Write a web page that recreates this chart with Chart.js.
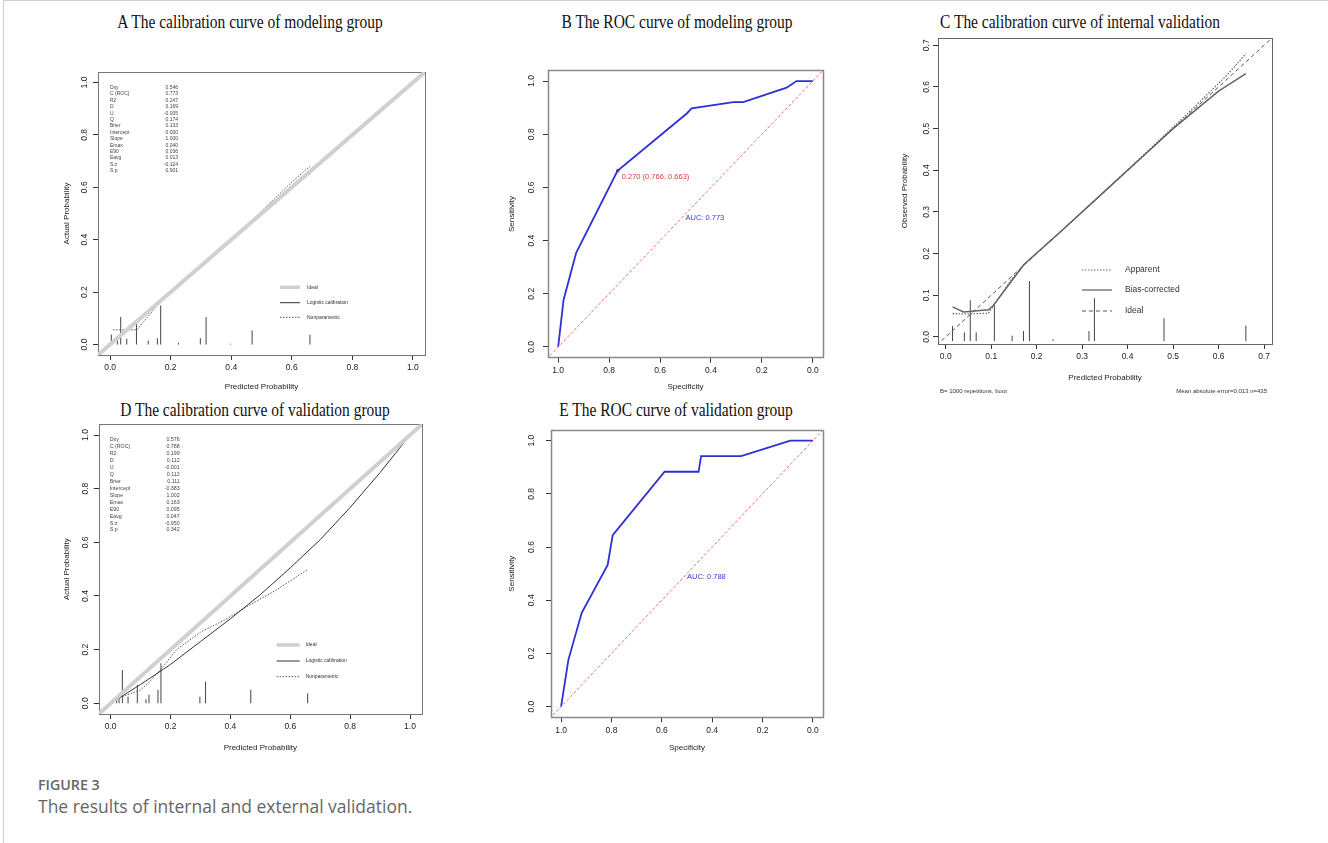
<!DOCTYPE html>
<html>
<head>
<meta charset="utf-8">
<title>Figure 3</title>
<script src="https://cdn.jsdelivr.net/npm/chart.js@4.4.1/dist/chart.umd.min.js"></script>
<style>
  html, body { margin: 0; padding: 0; background: #fff; }
  body { position: relative; width: 1328px; height: 843px; overflow: hidden; }
  .frame { position: absolute; left: 3px; top: 0; width: 1340px; height: 860px; border: 1px solid #cfcfcf; }
  .ttl { position: absolute; white-space: nowrap; font-family: "Liberation Serif", "Times New Roman", serif;
         font-size: 18px; line-height: 18px; color: #111; transform: translate(-50%, -50%) scaleX(0.86); }
  .cap { position: absolute; left: 38px; white-space: nowrap; line-height: 1; transform-origin: 0 50%;
         font-family: "Open Sans", sans-serif; color: #666; }
  canvas { position: absolute; }
</style>
</head>
<body>
<div class="frame"></div>
<div class="ttl" style="left:250px; top:22px">A The calibration curve of modeling group</div>
<div class="ttl" style="left:677px; top:22px">B The ROC curve of modeling group</div>
<div class="ttl" style="left:1080px; top:22px">C The calibration curve of internal validation</div>
<div class="ttl" style="left:255px; top:410px">D The calibration curve of validation group</div>
<div class="ttl" style="left:676px; top:410px">E The ROC curve of validation group</div>
<div class="cap" style="top:777px; font-size:15px; font-weight:600; transform:scaleX(0.95)">FIGURE 3</div>
<div class="cap" style="top:797px; font-size:19px; transform:scaleX(0.92)">The results of internal and external validation.</div>

<script>
const FONT = '"Liberation Sans", Arial, Helvetica, sans-serif';
Chart.defaults.font.family = FONT;

// ---- A: calibration, modeling group ----
const aLogisticX = [0, 1];
const aLogisticY = [0, 1];
const aNonparX = [0.01, 0.088, 0.165, 0.30, 0.47, 0.60, 0.66];
const aNonparY = [0.056, 0.056, 0.162, 0.30, 0.475, 0.62, 0.68];
const aSpikeX = [0.004, 0.024, 0.035, 0.055, 0.087, 0.126, 0.156, 0.167, 0.226, 0.298, 0.317, 0.398, 0.469, 0.66];
const aSpikeTop = [0.038, 0.022, 0.105, 0.022, 0.085, 0.015, 0.024, 0.149, 0.006, 0.024, 0.105, 0.003, 0.054, 0.037];
const statNames = ['Dxy', 'C (ROC)', 'R2', 'D', 'U', 'Q', 'Brier', 'Intercept', 'Slope', 'Emax', 'E90', 'Eavg', 'S:z', 'S:p'];
const aStats = ['0.546', '0.773', '0.247', '0.169', '-0.005', '0.174', '0.133', '0.000', '1.000', '0.040', '0.036', '0.013', '-0.124', '0.901'];

// ---- B: ROC, modeling group ----
const bSpec = [1.0, 0.979, 0.929, 0.767, 0.495, 0.476, 0.312, 0.273, 0.103, 0.064, 0.0];
const bSens = [0.0, 0.177, 0.355, 0.662, 0.878, 0.897, 0.921, 0.921, 0.975, 1.0, 1.0];
const bCut = [0.766, 0.663];
const bCutLabel = '0.270 (0.766, 0.663)';
const bAuc = 'AUC: 0.773';

// ---- C: calibration, internal validation (bootstrap) ----
const cAppX = [0.015, 0.05, 0.094, 0.142, 0.172, 0.25, 0.35, 0.45, 0.55, 0.62, 0.66];
const cAppY = [0.056, 0.055, 0.057, 0.134, 0.174, 0.25, 0.35, 0.452, 0.555, 0.63, 0.68];
const cBcX = [0.015, 0.039, 0.094, 0.105, 0.172, 0.25, 0.35, 0.45, 0.5, 0.55, 0.6, 0.66];
const cBcY = [0.072, 0.06, 0.065, 0.076, 0.174, 0.25, 0.35, 0.45, 0.5, 0.545, 0.59, 0.632];
const cSpikeX = [0.015, 0.041, 0.054, 0.067, 0.107, 0.146, 0.171, 0.184, 0.236, 0.315, 0.327, 0.48, 0.66];
const cSpikeTop = [0.026, 0.011, 0.088, 0.011, 0.079, 0.003, 0.014, 0.134, -0.006, 0.014, 0.093, 0.045, 0.027];
const cSpikeBase = -0.01;
const cNoteLeft = 'B= 1000 repetitions, boot';
const cNoteRight = 'Mean absolute error=0.013 n=435';

// ---- D: calibration, validation group ----
const dLogisticX = [0, 0.05, 0.1, 0.2, 0.3, 0.4, 0.5, 0.6, 0.7, 0.8, 0.9, 0.95, 1.0];
const dLogisticY = [0, 0.035, 0.07, 0.145, 0.23, 0.315, 0.405, 0.505, 0.61, 0.73, 0.86, 0.93, 1.0];
const dNonparX = [0.003, 0.04, 0.1, 0.13, 0.17, 0.22, 0.3, 0.38, 0.47, 0.55, 0.66];
const dNonparY = [0.005, 0.025, 0.05, 0.08, 0.13, 0.2, 0.265, 0.31, 0.37, 0.42, 0.5];
const dSpikeX = [0.009, 0.02, 0.028, 0.039, 0.058, 0.089, 0.118, 0.128, 0.158, 0.168, 0.298, 0.317, 0.468, 0.658];
const dSpikeTop = [0.018, 0.025, 0.037, 0.124, 0.025, 0.068, 0.015, 0.032, 0.05, 0.149, 0.025, 0.081, 0.05, 0.037];
const dStats = ['0.576', '0.788', '0.199', '0.112', '-0.001', '0.112', '0.111', '-0.383', '1.002', '0.163', '0.095', '0.047', '-0.950', '0.342'];

// ---- E: ROC, validation group ----
const eSpec = [1.0, 0.971, 0.918, 0.815, 0.795, 0.589, 0.454, 0.444, 0.285, 0.090, 0.0];
const eSens = [0.0, 0.176, 0.353, 0.533, 0.645, 0.883, 0.883, 0.942, 0.942, 1.0, 1.0];
const eAuc = 'AUC: 0.788';

// reference lines, clipped to the plot box
const idealEnds = [-0.1, 1.1];
const chanceSpec = [1.1, -0.1];
const chanceSens = [-0.1, 1.1];

function pts(xs, ys) { return xs.map((x, i) => ({x: x, y: ys[i]})); }

function curve(xs, ys, color, width, dash) {
  return { data: pts(xs, ys), showLine: true, borderColor: color, borderWidth: width,
    borderDash: dash || [], pointRadius: 0, tension: 0, clip: 0, fill: false };
}

function spikes(xs, tops, base, color) {
  const d = [];
  xs.forEach((x, i) => { d.push({x: x, y: base}, {x: x, y: tops[i]}, {x: x, y: null}); });
  return { data: d, showLine: true, spanGaps: false, borderColor: color, borderWidth: 1, pointRadius: 0, clip: 0 };
}

function text(ctx, s, x, y, size, color, align, base) {
  ctx.save();
  ctx.font = size + 'px ' + FONT;
  ctx.fillStyle = color;
  ctx.textAlign = align || 'left';
  ctx.textBaseline = base || 'middle';
  ctx.fillText(s, x, y);
  ctx.restore();
}

function seg(ctx, x0, x1, y, color, width, dash) {
  ctx.save();
  ctx.strokeStyle = color; ctx.lineWidth = width; ctx.setLineDash(dash || []);
  ctx.beginPath(); ctx.moveTo(x0, y); ctx.lineTo(x1, y); ctx.stroke();
  ctx.restore();
}

function calLegend(ctx, x0, x1, xt, ys, size) {
  seg(ctx, x0, x1, ys[0], '#cfcfcf', 3.5);
  text(ctx, 'Ideal', xt, ys[0], size, '#333');
  seg(ctx, x0, x1, ys[1], '#333', 1);
  text(ctx, 'Logistic calibration', xt, ys[1], size, '#333');
  seg(ctx, x0, x1, ys[2], '#555', 1, [1.5, 1.5]);
  text(ctx, 'Nonparametric', xt, ys[2], size, '#333');
}

function panel(p) {
  const cv = document.createElement('canvas');
  cv.width = p.c.w; cv.height = p.c.h;
  cv.style.left = p.c.x + 'px'; cv.style.top = p.c.y + 'px';
  cv.style.width = p.c.w + 'px'; cv.style.height = p.c.h + 'px';
  document.body.appendChild(cv);

  const lh = p.titleSize * 1.2;
  const padLeft = p.yTitleX - p.c.x - lh / 2;
  const yW = p.box.l - p.c.x - padLeft;
  const xBottom = p.xTitleY + lh / 2;
  const xH = xBottom - p.box.b;

  const axis = (isY) => ({
    type: 'linear',
    min: isY ? p.yRange[0] : p.xRange[0],
    max: isY ? p.yRange[1] : p.xRange[1],
    reverse: !isY && !!p.reverseX,
    afterFit: s => { if (isY) s.width = yW; else s.height = xH; },
    border: { display: false },
    grid: { drawOnChartArea: false, drawTicks: true, tickLength: 5, color: '#333', lineWidth: 1 },
    ticks: {
      stepSize: p.step, includeBounds: false, autoSkip: false,
      minRotation: isY ? 90 : 0, maxRotation: isY ? 90 : 0,
      crossAlign: isY ? 'center' : 'near',
      padding: isY ? p.yTickPad : 3, color: '#222',
      font: { family: FONT, size: p.tickSize },
      callback: v => v.toFixed(1)
    },
    title: { display: true, text: isY ? p.yTitle : p.xTitle, color: '#222', padding: 0,
      font: { family: FONT, size: p.titleSize, lineHeight: 1.2 } }
  });

  return new Chart(cv, {
    type: 'scatter',
    data: { datasets: p.datasets },
    options: {
      responsive: false, animation: false, events: [],
      layout: { padding: { left: padLeft, top: p.box.t - p.c.y, right: p.c.x + p.c.w - p.box.r, bottom: p.c.y + p.c.h - xBottom } },
      plugins: { legend: { display: false }, tooltip: { enabled: false } },
      scales: { x: axis(false), y: axis(true) }
    },
    plugins: [{
      id: 'rbox',
      beforeDatasetsDraw(chart) {
        const ca = chart.chartArea, ctx = chart.ctx;
        ctx.save();
        ctx.strokeStyle = p.boxColor; ctx.lineWidth = p.boxWidth;
        ctx.strokeRect(Math.round(ca.left) + 0.5, Math.round(ca.top) + 0.5, Math.round(ca.width), Math.round(ca.height));
        ctx.restore();
      },
      afterDatasetsDraw(chart) { if (p.draw) p.draw(chart); }
    }]
  });
}

// A
panel({
  c: {x: 20, y: 40, w: 440, h: 360}, box: {l: 98, t: 72, r: 425, b: 355},
  yTitleX: 67, xTitleY: 387, tickSize: 8.5, titleSize: 8, yTickPad: 2,
  xRange: [-0.04, 1.04], yRange: [-0.04, 1.04], step: 0.2,
  xTitle: 'Predicted Probability', yTitle: 'Actual Probability', boxColor: '#777', boxWidth: 1,
  datasets: [
    curve(idealEnds, idealEnds, '#d0d0d0', 4),
    curve(aLogisticX, aLogisticY, '#333', 1),
    curve(aNonparX, aNonparY, '#555', 1, [1.5, 1.5]),
    spikes(aSpikeX, aSpikeTop, 0, '#444')
  ],
  draw: chart => {
    const ctx = chart.ctx, ca = chart.chartArea;
    statNames.forEach((n, i) => {
      const y = ca.top + 15.7 + i * 6.4;
      text(ctx, n, ca.left + 12, y, 5, '#444');
      text(ctx, aStats[i], ca.left + 80, y, 5, '#444', 'right');
    });
    calLegend(ctx, ca.left + 182, ca.left + 202, ca.left + 209, [ca.bottom - 67.7, ca.bottom - 52.3, ca.bottom - 37.7], 5);
  }
});

// B
panel({
  c: {x: 470, y: 40, w: 380, h: 360}, box: {l: 548, t: 70.4, r: 823, b: 357.6},
  yTitleX: 512, xTitleY: 387, tickSize: 8.5, titleSize: 8, yTickPad: 5, reverseX: true,
  xRange: [-0.04, 1.04], yRange: [-0.04, 1.04], step: 0.2,
  xTitle: 'Specificity', yTitle: 'Sensitivity', boxColor: '#888', boxWidth: 1.5,
  datasets: [
    curve(chanceSpec, chanceSens, '#f07070', 1, [3, 2]),
    curve(bSpec, bSens, '#2f2fd6', 1.8),
    { data: [{x: bCut[0], y: bCut[1]}], pointRadius: 1.8, pointBackgroundColor: '#e03a3a', pointBorderWidth: 0, showLine: false }
  ],
  draw: chart => {
    const ctx = chart.ctx, xs = chart.scales.x, ys = chart.scales.y;
    const px = xs.getPixelForValue(bCut[0]), py = ys.getPixelForValue(bCut[1]);
    text(ctx, bCutLabel, px + 4, py + 6, 7.5, '#e03a3a');
    text(ctx, bAuc, xs.getPixelForValue(0.5), ys.getPixelForValue(0.5), 7.5, '#3a3ad0', 'left', 'top');
  }
});

// C
panel({
  c: {x: 870, y: 30, w: 458, h: 372}, box: {l: 938, t: 38, r: 1272, b: 344},
  yTitleX: 905, xTitleY: 378, tickSize: 8.5, titleSize: 8, yTickPad: 0,
  xRange: [-0.017, 0.7175], yRange: [-0.017, 0.7175], step: 0.1,
  xTitle: 'Predicted Probability', yTitle: 'Observed Probability', boxColor: '#666', boxWidth: 1,
  datasets: [
    curve(idealEnds, idealEnds, '#555', 1, [4, 3]),
    curve(cAppX, cAppY, '#666', 1.2, [1.5, 1.5]),
    curve(cBcX, cBcY, '#666', 1.5),
    spikes(cSpikeX, cSpikeTop, cSpikeBase, '#444')
  ],
  draw: chart => {
    const ctx = chart.ctx, ca = chart.chartArea;
    const x0 = ca.left + 144, x1 = ca.left + 174, xt = ca.left + 187;
    seg(ctx, x0, x1, ca.top + 232, '#666', 1, [1.5, 1.5]);
    text(ctx, 'Apparent', xt, ca.top + 232, 8.5, '#333');
    seg(ctx, x0, x1, ca.top + 252, '#666', 1.3);
    text(ctx, 'Bias-corrected', xt, ca.top + 252, 8.5, '#333');
    seg(ctx, x0, x1, ca.top + 273, '#555', 1, [4, 3]);
    text(ctx, 'Ideal', xt, ca.top + 273, 8.5, '#333');
    text(ctx, cNoteLeft, ca.left + 2, ca.bottom + 47, 6, '#333');
    text(ctx, cNoteRight, ca.right - 5, ca.bottom + 47, 6, '#333', 'right');
  }
});

// D
panel({
  c: {x: 20, y: 395, w: 440, h: 370}, box: {l: 98.7, t: 424.3, r: 422, b: 714},
  yTitleX: 67, xTitleY: 748, tickSize: 8.5, titleSize: 8, yTickPad: 2,
  xRange: [-0.04, 1.04], yRange: [-0.04, 1.04], step: 0.2,
  xTitle: 'Predicted Probability', yTitle: 'Actual Probability', boxColor: '#777', boxWidth: 1,
  datasets: [
    curve(idealEnds, idealEnds, '#d0d0d0', 4),
    curve(dLogisticX, dLogisticY, '#333', 1),
    curve(dNonparX, dNonparY, '#555', 1, [1.5, 1.5]),
    spikes(dSpikeX, dSpikeTop, 0, '#444')
  ],
  draw: chart => {
    const ctx = chart.ctx, ca = chart.chartArea;
    statNames.forEach((n, i) => {
      const y = ca.top + 15.7 + i * 6.92;
      text(ctx, n, ca.left + 11, y, 5.3, '#444');
      text(ctx, dStats[i], ca.left + 81, y, 5.3, '#444', 'right');
    });
    calLegend(ctx, ca.left + 178, ca.left + 201, ca.left + 207, [ca.bottom - 69, ca.bottom - 53, ca.bottom - 37.3], 5);
  }
});

// E
panel({
  c: {x: 470, y: 395, w: 380, h: 370}, box: {l: 551, t: 430, r: 823, b: 717.3},
  yTitleX: 512, xTitleY: 748, tickSize: 8.5, titleSize: 8, yTickPad: 8, reverseX: true,
  xRange: [-0.04, 1.04], yRange: [-0.04, 1.04], step: 0.2,
  xTitle: 'Specificity', yTitle: 'Sensitivity', boxColor: '#888', boxWidth: 1.5,
  datasets: [
    curve(chanceSpec, chanceSens, '#f07070', 1, [3, 2]),
    curve(eSpec, eSens, '#2f2fd6', 1.8)
  ],
  draw: chart => {
    const ctx = chart.ctx, xs = chart.scales.x, ys = chart.scales.y;
    text(ctx, eAuc, xs.getPixelForValue(0.5), ys.getPixelForValue(0.5), 7.5, '#3a3ad0', 'left', 'top');
  }
});
</script>
</body>
</html>
